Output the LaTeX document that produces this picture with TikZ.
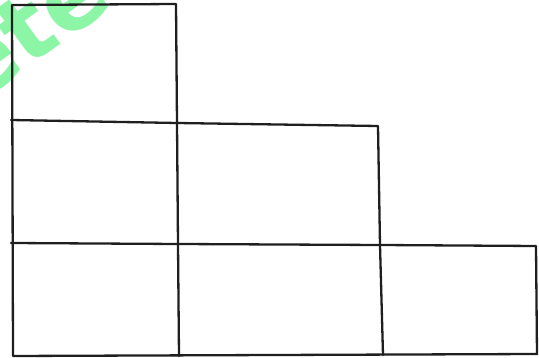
\documentclass[tikz,border=0pt]{standalone}
\usepackage{fontspec}
\setmainfont{DejaVu Sans}
\usepackage{tikz}
\usetikzlibrary{calc}

\definecolor{markgreen}{RGB}{140,246,166}

\tikzset{
    cellline/.style={line width=2.3pt, black!88, line cap=round, line join=round},
    marktext/.style={markgreen, font=\bfseries\fontsize{94}{94}\selectfont, rotate=36, inner sep=0pt}
}

\begin{document}
\begin{tikzpicture}[x=1pt, y=-1pt]
    % Frame
    \useasboundingbox (0, 0) rectangle (539, 358);
    \clip (0, 0) rectangle (539, 358);

    % Watermark
    \node[marktext, anchor=base west] (mark) at (-24, 106) {ete};

    % Corner points
    \coordinate (a0) at (12, 5);
    \coordinate (a1) at (176, 4);
    \coordinate (b0) at (11, 120);
    \coordinate (b1) at (177, 123);
    \coordinate (b2) at (378, 126);
    \coordinate (c0) at (11, 243);
    \coordinate (c1) at (178, 244);
    \coordinate (c2) at (380, 245);
    \coordinate (c3) at (536, 246);
    \coordinate (d0) at (13, 356);
    \coordinate (d1) at (179, 356);
    \coordinate (d2) at (383, 355);
    \coordinate (d3) at (537, 354);

    % Outer staircase
    \draw[cellline] (d0) -- (a0) -- (a1) -- (b1) -- (b2) -- (c2) -- (c3) -- (d3) -- cycle;

    % Inner lines
    \draw[cellline] (b0) -- (b1);
    \draw[cellline] (c0) -- (c1) -- (c2);
    \draw[cellline] (b1) -- (c1) -- (d1);
    \draw[cellline] (c2) -- (d2);
\end{tikzpicture}
\end{document}
